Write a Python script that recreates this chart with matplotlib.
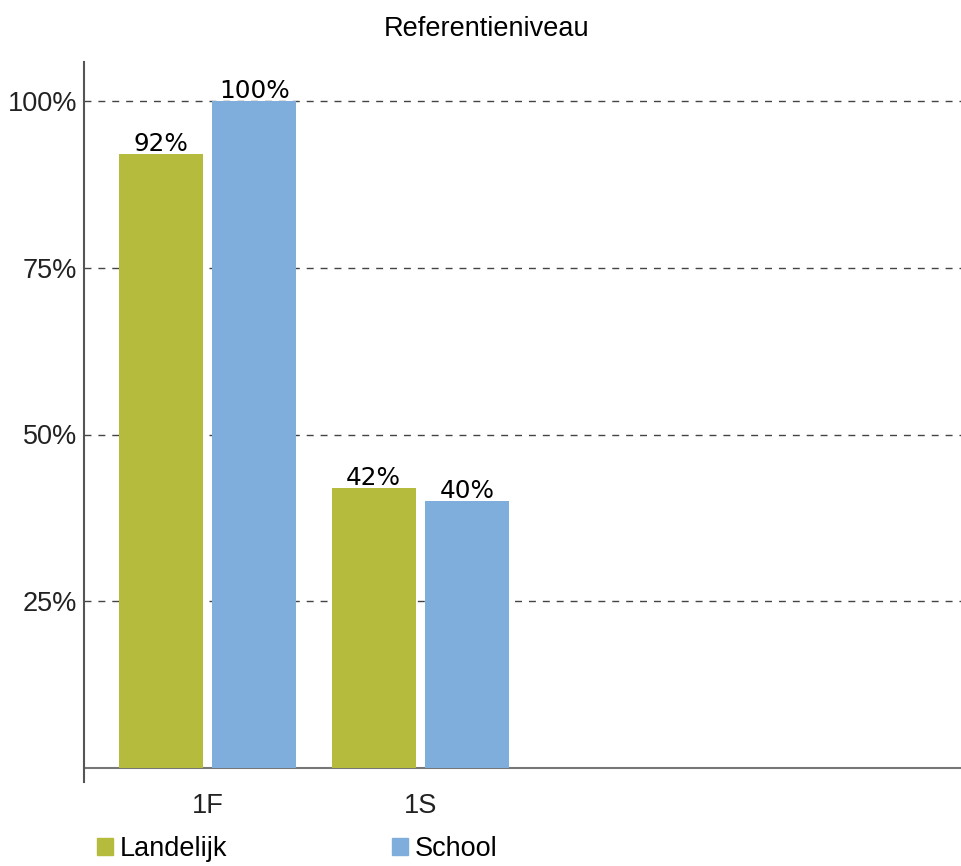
import matplotlib
matplotlib.use("Agg")
import matplotlib.pyplot as plt
import numpy as np
from matplotlib.patches import Patch

# data
categories = ["1F", "1S"]
landelijk = [92, 42]
school = [100, 40]
series_names = ["Landelijk", "School"]
yticks = [25, 50, 75, 100]
ytick_labels = ["25%", "50%", "75%", "100%"]

green = "#b5bb3c"
blue = "#7faedd"

W, H = 962, 866
fig = plt.figure(figsize=(W / 100, H / 100), dpi=100)

# axes box: left 84px, right edge of figure, top 62px, bottom 782px
ax = fig.add_axes([84 / W, 1 - 782 / H, 1 - 84 / W, (782 - 62) / H])

x = np.arange(len(categories))
bw = 0.394
off = 0.22
b1 = ax.bar(x - off, landelijk, bw, color=green, zorder=3)
b2 = ax.bar(x + off, school, bw, color=blue, zorder=3)

# value labels above the bars
for bars, vals in [(b1, landelijk), (b2, school)]:
    for rect, v in zip(bars, vals):
        ax.annotate(f"{v}%", (rect.get_x() + rect.get_width() / 2, v),
                    xytext=(0, 2.2), textcoords="offset points",
                    ha="center", va="baseline", fontsize=17.8,
                    family="DejaVu Sans", color="black", zorder=4)

px_per_pct = (768 - 101) / 100
ax.set_ylim(-(782 - 768) / px_per_pct, (768 - 62) / px_per_pct)
ax.set_xlim((84 - 207.5) / 213, (962 - 207.5) / 213)

ax.set_yticks(yticks)
ax.set_yticklabels(ytick_labels)
ax.set_xticks(x)
ax.set_xticklabels(categories)
ax.tick_params(axis="both", length=0, labelsize=19.5, labelcolor="#222222")
ax.tick_params(axis="y", pad=5)
ax.tick_params(axis="x", pad=8)
for lab in ax.get_xticklabels() + ax.get_yticklabels():
    lab.set_family("Liberation Sans")

ax.grid(axis="y", color="#444444", linestyle=(0, (5, 5)), linewidth=1.0, zorder=1)
ax.axhline(0, color="#777777", linewidth=1.5, zorder=2)

for s in ["top", "right", "bottom"]:
    ax.spines[s].set_visible(False)
ax.spines["left"].set_color("#555555")
ax.spines["left"].set_linewidth(1.5)

fig.text(487 / W, 1 - 29 / H, "Referentieniveau", ha="center", va="center",
         fontsize=19.5, family="Liberation Sans", color="black")

handles = [Patch(color=green), Patch(color=blue)]
fig.legend(handles, series_names, loc="center left",
           bbox_to_anchor=(97 / W, 1 - 849 / H), ncol=2, frameon=False,
           borderpad=0, borderaxespad=0, handlelength=0.59, handleheight=0.56,
           handletextpad=0.26, columnspacing=6.07,
           prop={"family": "Liberation Sans", "size": 19.5})

fig.savefig("out.png", dpi=100)
